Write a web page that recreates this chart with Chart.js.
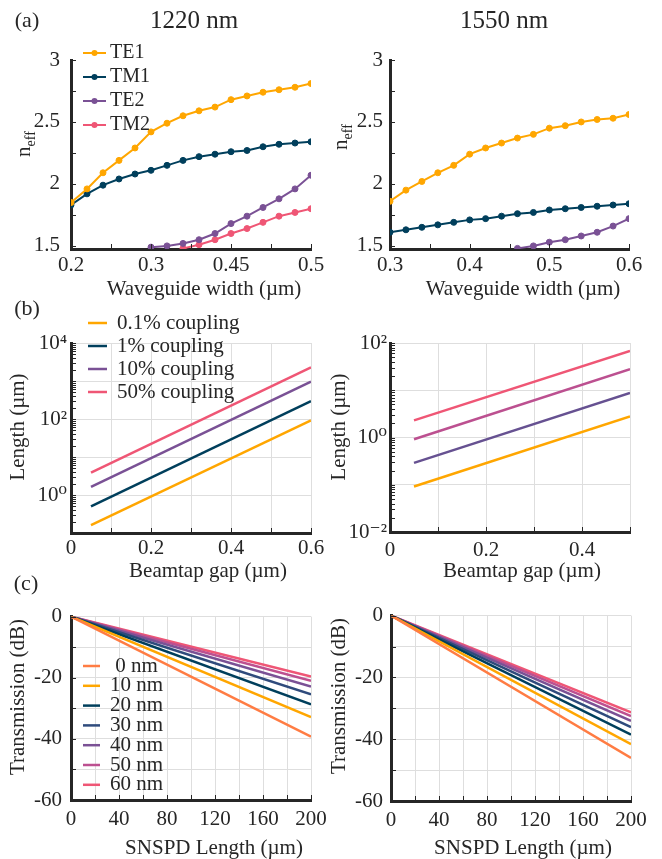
<!DOCTYPE html>
<html lang="en">
<head>
<meta charset="UTF-8">
<title>Mode index, beamtap length and SNSPD transmission</title>
<script src="https://cdn.jsdelivr.net/npm/chart.js@4.4.1/dist/chart.umd.min.js"></script>
<style>
    body {
        margin: 0;
        width: 662px;
        height: 859px;
        position: relative;
        overflow: hidden;
        background: #fff;
        font-family: "Liberation Serif", serif;
        color: #262626;
    }
    canvas { position: absolute; }
    .t {
        position: absolute;
        transform: translate(-50%, -50%);
        white-space: nowrap;
        line-height: 1.2;
        font-size: 21px;
    }
    .v { transform: translate(-50%, -50%) rotate(-90deg); }
    .lab { font-size: 22px; }
    .col { font-size: 25px; }
    sub { font-size: 14px; }
</style>
</head>
<body>
    <!-- (a) effective index -->
    <canvas id="a1220" width="340" height="280" style="left:0;top:30px"></canvas>
    <canvas id="a1550" width="330" height="280" style="left:330px;top:30px"></canvas>
    <!-- (b) beamtap length -->
    <canvas id="b1220" width="340" height="260" style="left:0;top:310px"></canvas>
    <canvas id="b1550" width="330" height="255" style="left:330px;top:315px"></canvas>
    <!-- (c) transmission -->
    <canvas id="c1220" width="340" height="245" style="left:0;top:595px"></canvas>
    <canvas id="c1550" width="330" height="245" style="left:330px;top:595px"></canvas>

    <div class="t lab" style="left:27px;top:20px">(a)</div>
    <div class="t col" style="left:194px;top:20px">1220 nm</div>
    <div class="t col" style="left:504px;top:20px">1550 nm</div>
    <div class="t lab" style="left:27px;top:308px">(b)</div>
    <div class="t lab" style="left:26px;top:583px">(c)</div>

    <div class="t v" style="left:25px;top:144px">n<sub>eff</sub></div>
    <div class="t v" style="left:342px;top:137px">n<sub>eff</sub></div>
    <div class="t" style="left:204px;top:289px">Waveguide width (µm)</div>
    <div class="t" style="left:523px;top:289px">Waveguide width (µm)</div>

    <div class="t v" style="left:18px;top:427px">Length (µm)</div>
    <div class="t v" style="left:339px;top:427px">Length (µm)</div>
    <div class="t" style="left:208px;top:571px">Beamtap gap (µm)</div>
    <div class="t" style="left:522px;top:571px">Beamtap gap (µm)</div>

    <div class="t v" style="left:18px;top:697px">Transmission (dB)</div>
    <div class="t v" style="left:339px;top:696px">Transmission (dB)</div>
    <div class="t" style="left:214px;top:848px">SNSPD Length (µm)</div>
    <div class="t" style="left:523px;top:848px">SNSPD Length (µm)</div>

<script>
    // ---- (a) n_eff vs waveguide width ----
    const w1220 = [0.20, 0.22, 0.24, 0.26, 0.28, 0.30, 0.32, 0.34, 0.36, 0.38, 0.40, 0.42, 0.44, 0.46, 0.48, 0.50]
    const te1_1220 = [1.85, 1.96, 2.09, 2.19, 2.29, 2.42, 2.49, 2.55, 2.59, 2.62, 2.68, 2.71, 2.74, 2.76, 2.78, 2.81]
    const tm1_1220 = [1.83, 1.92, 1.99, 2.04, 2.08, 2.11, 2.15, 2.19, 2.22, 2.24, 2.26, 2.27, 2.30, 2.32, 2.33, 2.34]
    const te2_1220 = [null, null, null, null, null, 1.49, 1.50, 1.52, 1.55, 1.60, 1.68, 1.74, 1.81, 1.88, 1.96, 2.07]
    const tm2_1220 = [null, null, null, null, null, null, null, 1.48, 1.51, 1.55, 1.60, 1.64, 1.69, 1.74, 1.77, 1.80]

    const w1550 = [0.30, 0.32, 0.34, 0.36, 0.38, 0.40, 0.42, 0.44, 0.46, 0.48, 0.50, 0.52, 0.54, 0.56, 0.58, 0.60]
    const te1_1550 = [1.86, 1.95, 2.02, 2.09, 2.15, 2.24, 2.29, 2.33, 2.37, 2.40, 2.45, 2.47, 2.50, 2.52, 2.53, 2.56]
    const tm1_1550 = [1.61, 1.63, 1.65, 1.67, 1.69, 1.71, 1.72, 1.74, 1.76, 1.77, 1.79, 1.80, 1.81, 1.82, 1.83, 1.84]
    const te2_1550 = [null, null, null, null, null, null, null, null, 1.48, 1.50, 1.53, 1.55, 1.58, 1.61, 1.66, 1.72]

    const modeNames = ['TE1', 'TM1', 'TE2', 'TM2']

    const aX1220Ticks = [0.2, 0.3, 0.4, 0.5]
    const aX1220Labels = ['0.2', '0.3', '0.45', '0.5']
    const aX1550Ticks = [0.3, 0.4, 0.5, 0.6]
    const aX1550Labels = ['0.3', '0.4', '0.5', '0.6']
    const aYTicks = [1.5, 2, 2.5, 3]
    const aYLabels = ['1.5', '2', '2.5', '3']

    // ---- (b) beamtap length vs gap (straight lines on log axis) ----
    const couplingNames = ['0.1% coupling', '1% coupling', '10% coupling', '50% coupling']
    const gap1220 = [0.05, 0.6]
    const len1220 = [
        [0.16, 92],
        [0.5, 295],
        [1.63, 960],
        [3.9, 2300]
    ]
    const gap1550 = [0.05, 0.5]
    const len1550 = [
        [0.092, 2.8],
        [0.29, 8.8],
        [0.92, 28],
        [2.3, 68]
    ]
    const bX1220Ticks = [0, 0.1, 0.2, 0.3, 0.4, 0.5, 0.6]
    const bX1220Labels = ['0', '', '0.2', '', '0.4', '', '0.6']
    const bX1550Ticks = [0, 0.1, 0.2, 0.3, 0.4, 0.5]
    const bX1550Labels = ['0', '', '0.2', '', '0.4', '']
    const bY1220Ticks = [0.1, 1, 10, 100, 1000, 10000]
    const bY1220Labels = ['', '10⁰', '', '10²', '', '10⁴']
    const bY1550Ticks = [0.01, 0.1, 1, 10, 100]
    const bY1550Labels = ['10⁻²', '', '10⁰', '', '10²']

    // ---- (c) transmission vs SNSPD length ----
    const thicknessNames = [' 0 nm', '10 nm', '20 nm', '30 nm', '40 nm', '50 nm', '60 nm']
    const snspdLen = [0, 200]
    const trans1220End = [-39.3, -32.9, -28.7, -25.4, -22.9, -21.0, -19.6]
    const trans1550End = [-46.1, -41.6, -38.5, -36.1, -34.1, -32.5, -31.3]
    const cXTicks = [0, 20, 40, 60, 80, 100, 120, 140, 160, 180, 200]
    const cXLabels = ['0', '', '40', '', '80', '', '120', '', '160', '', '200']
    const cYTicks = [-60, -50, -40, -30, -20, -10, 0]
    const cYLabels = ['-60', '', '-40', '', '-20', '', '0']

    const modeColors = ['#ffa600', '#003f5c', '#7a5195', '#ef5675']
    const coup1550Colors = ['#ffa600', '#665191', '#bc5090', '#ef5675']
    const thickColors = ['#ff7c43', '#ffa600', '#003f5c', '#2f4b7c', '#7a5195', '#bc5090', '#ef5675']
</script>
<script>
    Chart.defaults.font.family = '"Liberation Serif", "DejaVu Serif", serif'
    Chart.defaults.font.size = 21
    Chart.defaults.color = '#262626'

    function pts(xs, ys) {
        return xs.map((x, i) => ({x: x, y: ys[i]}))
    }

    function logMinor(lo, hi) {
        const t = []
        for (let e = lo; e < hi; e++) {
            for (let m = 1; m < 10; m++) t.push(m * Math.pow(10, e))
        }
        t.push(Math.pow(10, hi))
        return t
    }

    function steps(a, b, s) {
        const t = []
        for (let v = a; v <= b + s / 1000; v += s) t.push(Math.round(v * 1000) / 1000)
        return t
    }

    // short ticks pointing into the plot, like the original figure
    const inTicks = {
        id: 'inTicks',
        afterDatasetsDraw(chart, args, o) {
            const {ctx, chartArea: a, scales} = chart
            const len = o.len || 5
            ctx.save()
            ctx.strokeStyle = '#262626'
            ctx.lineWidth = 1
            ctx.beginPath()
            ;(o.x || []).forEach(v => {
                const p = Math.round(scales.x.getPixelForValue(v)) + 0.5
                ctx.moveTo(p, a.bottom)
                ctx.lineTo(p, a.bottom - len)
            })
            ;(o.y || []).forEach(v => {
                const p = Math.round(scales.y.getPixelForValue(v)) + 0.5
                ctx.moveTo(a.left, p)
                ctx.lineTo(a.left + len, p)
            })
            ctx.stroke()
            ctx.restore()
        }
    }

    // legend drawn freely at a spot, like the MATLAB legends without box
    const figLegend = {
        id: 'figLegend',
        afterDraw(chart, args, o) {
            if (o.x === undefined) return
            const ctx = chart.ctx
            ctx.save()
            ctx.font = o.font
            ctx.textBaseline = 'middle'
            chart.data.datasets.forEach((ds, i) => {
                if (!ds.label) return
                const y = o.y + i * o.dy
                ctx.strokeStyle = ds.borderColor
                ctx.lineWidth = ds.borderWidth
                ctx.beginPath()
                ctx.moveTo(o.x, y)
                ctx.lineTo(o.x + o.len, y)
                ctx.stroke()
                if (o.dot) {
                    ctx.fillStyle = ds.borderColor
                    ctx.beginPath()
                    ctx.arc(o.x + o.len / 2, y, 3, 0, Math.PI * 2)
                    ctx.fill()
                }
                ctx.fillStyle = '#262626'
                ctx.fillText(ds.label, o.x + o.len + o.gap, y)
            })
            ctx.restore()
        }
    }

    // rect = canvas [left, top, width, height], area = plot [left, top, right, bottom] in page px
    function plot(id, rect, area, o) {
        const padTop = area[1] - rect[1]
        const padRight = rect[0] + rect[2] - area[2]
        const yw = area[0] - rect[0]
        const xh = rect[1] + rect[3] - area[3]
        const grid = o.grid
            ? {color: '#dedede', lineWidth: 1, drawTicks: false}
            : {drawOnChartArea: false, drawTicks: false}
        const border = {color: '#262626', width: 3}

        return new Chart(document.getElementById(id), {
            type: 'line',
            data: {datasets: o.datasets},
            plugins: [inTicks, figLegend],
            options: {
                responsive: false,
                animation: false,
                events: [],
                layout: {padding: {left: 0, top: padTop, right: padRight, bottom: 0}},
                plugins: {
                    legend: {display: false},
                    tooltip: {enabled: false},
                    figLegend: o.legend || {},
                    inTicks: {x: o.xIn, y: o.yIn, len: 5}
                },
                elements: {line: {tension: 0}},
                scales: {
                    x: {
                        type: 'linear',
                        min: o.xMin,
                        max: o.xMax,
                        afterFit: s => { s.height = xh },
                        afterBuildTicks: s => { s.ticks = o.xTicks.map(v => ({value: v})) },
                        grid: grid,
                        border: border,
                        ticks: {
                            padding: o.xPad,
                            maxRotation: 0,
                            autoSkip: false,
                            callback: (v, i) => o.xLabels[i]
                        }
                    },
                    y: {
                        type: o.yType || 'linear',
                        min: o.yMin,
                        max: o.yMax,
                        afterFit: s => { s.width = yw },
                        afterBuildTicks: s => { s.ticks = o.yTicks.map(v => ({value: v})) },
                        grid: grid,
                        border: border,
                        ticks: {
                            padding: o.yPad,
                            autoSkip: false,
                            callback: (v, i) => o.yLabels[i]
                        }
                    }
                }
            }
        })
    }

    function modeSet(label, xs, ys, color) {
        return {
            label: label,
            data: pts(xs, ys),
            borderColor: color,
            backgroundColor: color,
            borderWidth: 2,
            pointRadius: 3,
            pointBorderWidth: 1,
            pointBackgroundColor: color,
            spanGaps: false
        }
    }

    function lineSet(label, xs, ys, color) {
        return {
            label: label,
            data: pts(xs, ys),
            borderColor: color,
            backgroundColor: color,
            borderWidth: 2.5,
            pointRadius: 0
        }
    }

    // (a) 1220 nm
    plot('a1220', [0, 30, 340, 280], [71, 60, 311, 249], {
        datasets: [
            modeSet(modeNames[0], w1220, te1_1220, modeColors[0]),
            modeSet(modeNames[1], w1220, tm1_1220, modeColors[1]),
            modeSet(modeNames[2], w1220, te2_1220, modeColors[2]),
            modeSet(modeNames[3], w1220, tm2_1220, modeColors[3])
        ],
        xMin: 0.2, xMax: 0.5, xTicks: aX1220Ticks, xLabels: aX1220Labels, xPad: 4,
        yMin: 1.475, yMax: 3, yTicks: aYTicks, yLabels: aYLabels, yPad: 11,
        xIn: steps(0.2, 0.5, 0.05), yIn: steps(1.5, 3, 0.25),
        legend: {x: 83, y: 23, dy: 24, len: 23, gap: 4, dot: true, font: '20px "Liberation Serif"'}
    })

    // (a) 1550 nm
    plot('a1550', [330, 30, 330, 280], [390, 60, 629, 249], {
        datasets: [
            modeSet('', w1550, te1_1550, modeColors[0]),
            modeSet('', w1550, tm1_1550, modeColors[1]),
            modeSet('', w1550, te2_1550, modeColors[2])
        ],
        xMin: 0.3, xMax: 0.6, xTicks: aX1550Ticks, xLabels: aX1550Labels, xPad: 4,
        yMin: 1.475, yMax: 3, yTicks: aYTicks, yLabels: aYLabels, yPad: 7,
        xIn: steps(0.3, 0.6, 0.05), yIn: steps(1.5, 3, 0.25)
    })

    // (b) 1220 nm
    plot('b1220', [0, 310, 340, 260], [71, 343, 311, 533], {
        datasets: len1220.map((ys, i) => lineSet(couplingNames[i], gap1220, ys, modeColors[i])),
        grid: true,
        xMin: 0, xMax: 0.6, xTicks: bX1220Ticks, xLabels: bX1220Labels, xPad: 3,
        yType: 'logarithmic', yMin: 0.1, yMax: 10000, yTicks: bY1220Ticks, yLabels: bY1220Labels, yPad: 4,
        xIn: bX1220Ticks, yIn: logMinor(-1, 4),
        legend: {x: 88, y: 13, dy: 23, len: 19, gap: 10, font: '21px "Liberation Serif"'}
    })

    // (b) 1550 nm
    plot('b1550', [330, 315, 330, 255], [390, 343, 630, 532], {
        datasets: len1550.map((ys, i) => lineSet('', gap1550, ys, coup1550Colors[i])),
        grid: true,
        xMin: 0, xMax: 0.5, xTicks: bX1550Ticks, xLabels: bX1550Labels, xPad: 6,
        yType: 'logarithmic', yMin: 0.01, yMax: 100, yTicks: bY1550Ticks, yLabels: bY1550Labels, yPad: 3,
        xIn: bX1550Ticks, yIn: logMinor(-2, 2)
    })

    // (c) 1220 nm
    plot('c1220', [0, 595, 340, 245], [71, 612, 311, 800], {
        datasets: trans1220End.map((e, i) => lineSet(thicknessNames[i], snspdLen, [0, e], thickColors[i])),
        grid: true,
        xMin: 0, xMax: 200, xTicks: cXTicks, xLabels: cXLabels, xPad: 7,
        yMin: -60, yMax: 0, yTicks: cYTicks, yLabels: cYLabels, yPad: 9,
        xIn: cXTicks, yIn: cYTicks,
        legend: {x: 83, y: 71, dy: 19.8, len: 17, gap: 10, font: '21px "Liberation Serif"'}
    })

    // (c) 1550 nm
    plot('c1550', [330, 595, 330, 245], [391, 612, 631, 801], {
        datasets: trans1550End.map((e, i) => lineSet('', snspdLen, [0, e], thickColors[i])),
        grid: true,
        xMin: 0, xMax: 200, xTicks: cXTicks, xLabels: cXLabels, xPad: 7,
        yMin: -60, yMax: 0, yTicks: cYTicks, yLabels: cYLabels, yPad: 8,
        xIn: cXTicks, yIn: cYTicks
    })
</script>
</body>
</html>
